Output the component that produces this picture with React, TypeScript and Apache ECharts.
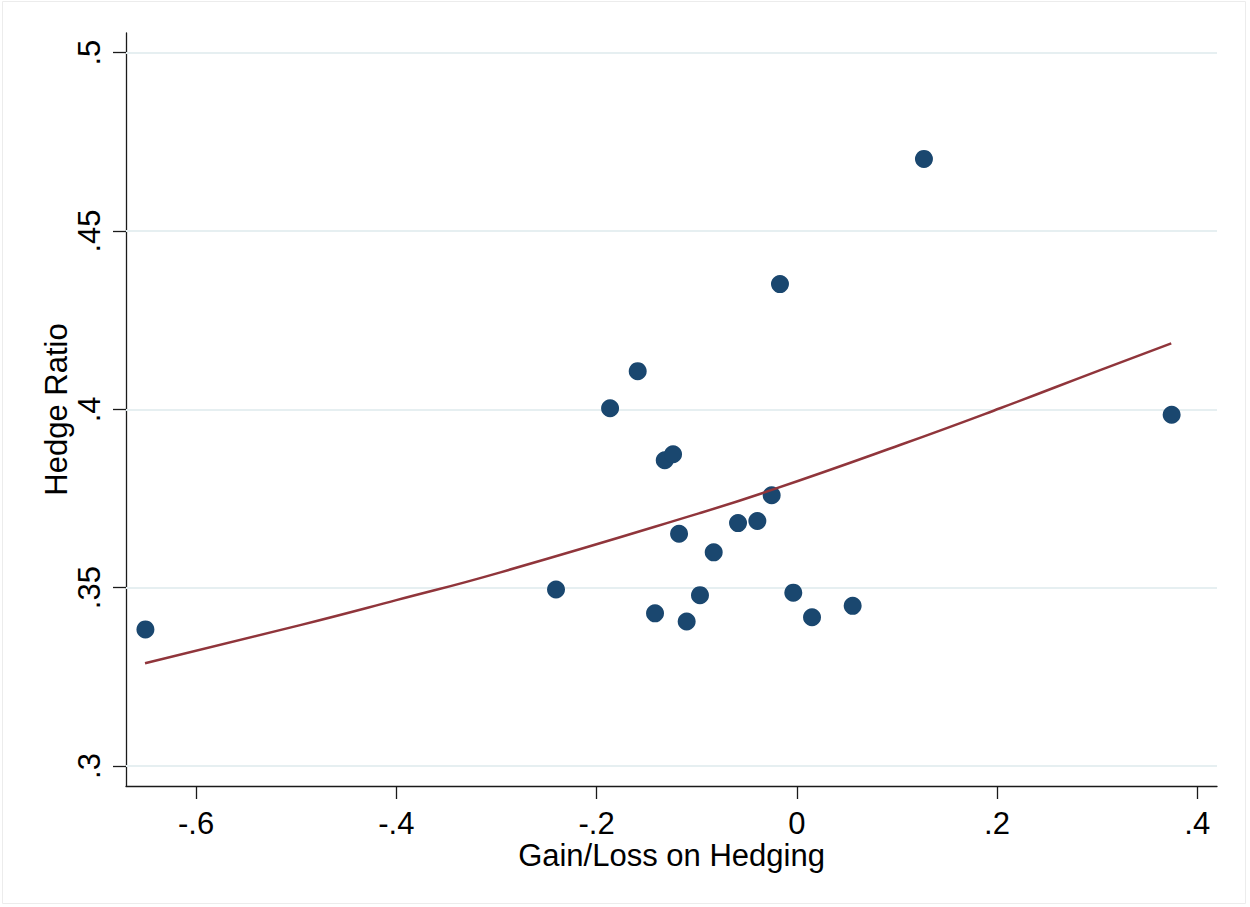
import React, { useEffect, useRef } from "react";
import * as echarts from "echarts";

// Scatter points: Gain/Loss on Hedging (x) vs Hedge Ratio (y)
const gainLoss = [
  -0.6506, -0.2405, -0.1865, -0.1589, -0.1416, -0.1319, -0.1236, -0.1176, -0.11, -0.0967,
  -0.083, -0.0587, -0.0394, -0.0251, -0.0168, -0.0035, 0.0152, 0.0558, 0.127, 0.3744,
];
const hedgeRatio = [
  0.3383, 0.3495, 0.4003, 0.4107, 0.3428, 0.3857, 0.3874, 0.3651, 0.3405, 0.3479,
  0.3599, 0.3681, 0.3687, 0.3759, 0.4351, 0.3486, 0.3417, 0.3449, 0.4702, 0.3985,
];

// Fitted curve
const fitX = [-0.651, -0.496, -0.4, -0.296, -0.097, -0.025, 0.103, 0.203, 0.303, 0.374];
const fitY = [0.3288, 0.3395, 0.3465, 0.3543, 0.3709, 0.3774, 0.39, 0.4003, 0.411, 0.4185];

const xTicks = [-0.6, -0.4, -0.2, 0, 0.2, 0.4];
const yTicks = [0.3, 0.35, 0.4, 0.45, 0.5];

const FONT = "'Liberation Sans', Arial, sans-serif";

const fmt = (v: number) => {
  const r = Math.round(v * 1000) / 1000;
  if (r === 0) return "0";
  return String(r).replace("0.", ".");
};

export default function App() {
  const ref = useRef<HTMLDivElement>(null);

  useEffect(() => {
    document.body.style.margin = "0";
    if (!ref.current) return;
    const chart = echarts.init(ref.current, undefined, { renderer: "svg" });

    const axisLineStyle = { color: "#1a1a1a", width: 1.3 };

    chart.setOption({
      animation: false,
      backgroundColor: "#ffffff",
      grid: { left: 126, right: 33, top: 33, bottom: 121, containLabel: false },
      graphic: [
        {
          type: "rect",
          shape: { x: 2.5, y: 1.5, width: 1243, height: 902 },
          style: { fill: "none", stroke: "#ececec", lineWidth: 1 },
          silent: true,
          z: -1,
        },
      ],
      xAxis: {
        type: "value",
        min: -0.67,
        max: 0.4197,
        name: "Gain/Loss on Hedging",
        nameLocation: "middle",
        nameGap: 54,
        nameMoveOverlap: false,
        nameTextStyle: { fontFamily: FONT, fontSize: 31, color: "#000" },
        axisLine: { show: true, onZero: false, lineStyle: axisLineStyle },
        axisTick: { show: true, length: 13, lineStyle: axisLineStyle, customValues: xTicks },
        axisLabel: {
          customValues: xTicks,
          formatter: fmt,
          margin: 22,
          fontFamily: FONT,
          fontSize: 31,
          color: "#000",
        },
        splitLine: { show: false },
      },
      yAxis: {
        type: "value",
        min: 0.2944,
        max: 0.5055,
        name: "Hedge Ratio",
        nameLocation: "middle",
        nameGap: 54,
        nameMoveOverlap: false,
        nameRotate: 90,
        nameTextStyle: { fontFamily: FONT, fontSize: 31, color: "#000" },
        axisLine: { show: true, onZero: false, lineStyle: axisLineStyle },
        axisTick: { show: true, length: 13, lineStyle: axisLineStyle, customValues: yTicks },
        axisLabel: {
          customValues: yTicks,
          formatter: fmt,
          rotate: 90,
          margin: 21,
          fontFamily: FONT,
          fontSize: 31,
          color: "#000",
        },
        splitLine: { show: false },
      },
      series: [
        {
          type: "scatter",
          data: gainLoss.map((x, i) => [x, hedgeRatio[i]]),
          symbol: "circle",
          symbolSize: 18,
          itemStyle: { color: "#1a476f", opacity: 1 },
          z: 3,
          markLine: {
            silent: true,
            symbol: "none",
            label: { show: false },
            lineStyle: { color: "#e6eff1", width: 2, type: "solid", opacity: 1 },
            data: yTicks.map((v) => ({ yAxis: v })),
            z: 1,
          },
        },
        {
          type: "line",
          data: fitX.map((x, i) => [x, fitY[i]]),
          smooth: true,
          showSymbol: false,
          lineStyle: { color: "#90353b", width: 2.5 },
          itemStyle: { color: "#90353b" },
          z: 4,
        },
      ],
    });

    return () => chart.dispose();
  }, []);

  return <div ref={ref} style={{ width: 1250, height: 907 }} />;
}
